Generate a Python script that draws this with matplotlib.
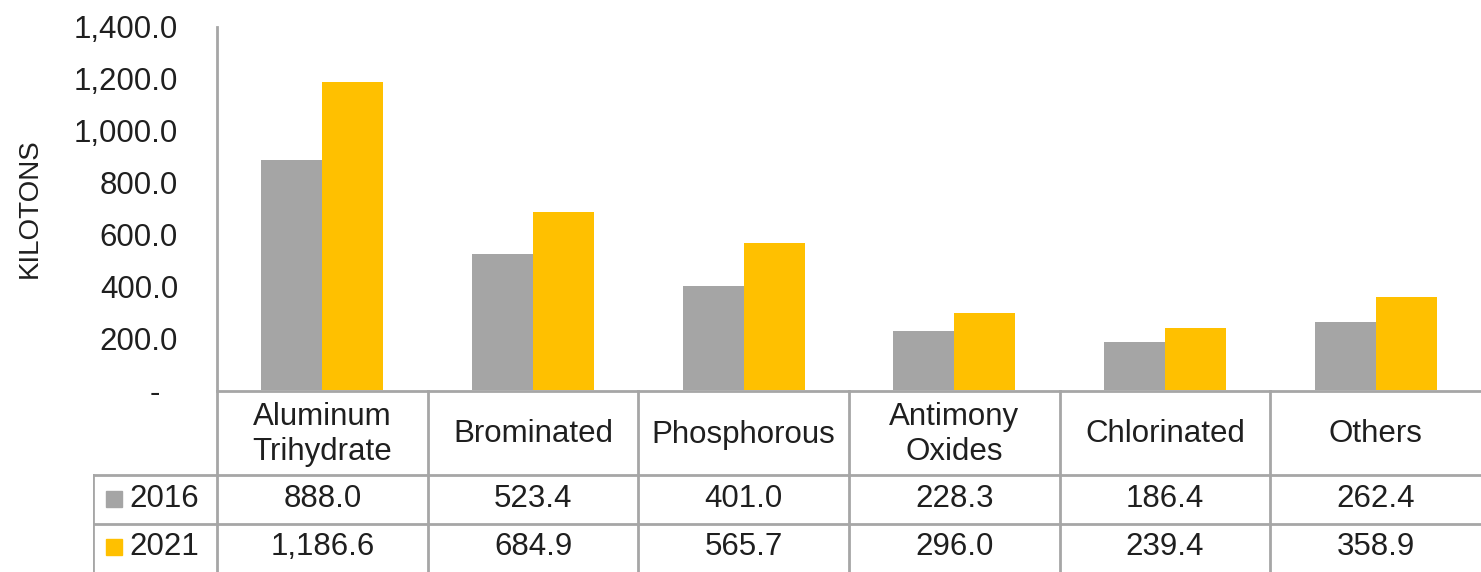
import numpy as np
import matplotlib.pyplot as plt
from matplotlib.ticker import FuncFormatter

categories = ["Aluminum\nTrihydrate", "Brominated", "Phosphorous",
              "Antimony\nOxides", "Chlorinated", "Others"]
years = ["2016", "2021"]
values_2016 = [888.0, 523.4, 401.0, 228.3, 186.4, 262.4]
values_2021 = [1186.6, 684.9, 565.7, 296.0, 239.4, 358.9]
colors = ["#A5A5A5", "#FFC000"]

plt.rcParams["font.family"] = ["Liberation Sans", "DejaVu Sans"]
grid_color = "#A6A6A6"
text_color = "#1F1F1F"
fs = 22.5

W, H = 1481, 572
fig = plt.figure(figsize=(W / 100, H / 100), dpi=100)

# pixel layout of plot area and table
ax_left, ax_right, ax_top, ax_zero = 217, 1481, 27, 390
ax = fig.add_axes([ax_left / W, 1 - ax_zero / H,
                   (ax_right - ax_left) / W, (ax_zero - ax_top) / H])

n = len(categories)
x = np.arange(n)
bw = 0.29
ax.bar(x - bw / 2, values_2016, bw, color=colors[0], label=years[0])
ax.bar(x + bw / 2, values_2021, bw, color=colors[1], label=years[1])

ax.set_xlim(-0.5, n - 0.5)
ax.set_ylim(0, 1400)
ax.set_yticks(np.arange(0, 1401, 200))
ax.yaxis.set_major_formatter(FuncFormatter(
    lambda v, p: f"{v:,.1f}" if v else "-  "))
ax.tick_params(axis="y", length=0, pad=28, labelsize=fs, labelcolor=text_color)
ax.set_xticks([])
for s in ["top", "right", "bottom"]:
    ax.spines[s].set_visible(False)
ax.spines["left"].set_color(grid_color)
ax.spines["left"].set_linewidth(2)
ax.set_ylabel("KILOTONS", fontsize=20, color=text_color, labelpad=22)

# data table below the bars
unit = (ax_right - ax_left) / n
tab_left = 93
tax = fig.add_axes([tab_left / W, 0, (W - tab_left) / W, (H - ax_zero) / H])
xmin = -0.5 - (ax_left - tab_left) / unit
tax.set_xlim(xmin, n - 0.5)
tax.set_ylim(0, H - ax_zero)
tax.axis("off")

top = H - ax_zero
row_h = 48
header_bottom = 2 * row_h + 1
lw = 2
tax.plot([-0.5, n - 0.5], [top - 1, top - 1], color=grid_color, lw=lw)
for yy in [header_bottom, row_h]:
    tax.plot([xmin, n - 0.5], [yy, yy], color=grid_color, lw=lw)
tax.plot([xmin, xmin], [0, header_bottom], color=grid_color, lw=lw)
for i in range(n):
    tax.plot([i - 0.5, i - 0.5], [0, top], color=grid_color, lw=lw)

for i, cat in enumerate(categories):
    tax.text(i, (header_bottom + top) / 2 - 2, cat, ha="center", va="center",
             fontsize=fs, color=text_color, linespacing=1.2)

for r, (yr, vals, c) in enumerate(zip(years, [values_2016, values_2021], colors)):
    yc = header_bottom - row_h * (r + 0.5)
    tax.plot([xmin + 21 / unit], [yc], marker="s", ms=12, color=c, ls="none")
    tax.text(xmin + 36 / unit, yc, yr, ha="left", va="center",
             fontsize=fs, color=text_color)
    for i, v in enumerate(vals):
        tax.text(i, yc, f"{v:,.1f}", ha="center", va="center",
                 fontsize=fs, color=text_color)

fig.savefig("out.png", dpi=100)
